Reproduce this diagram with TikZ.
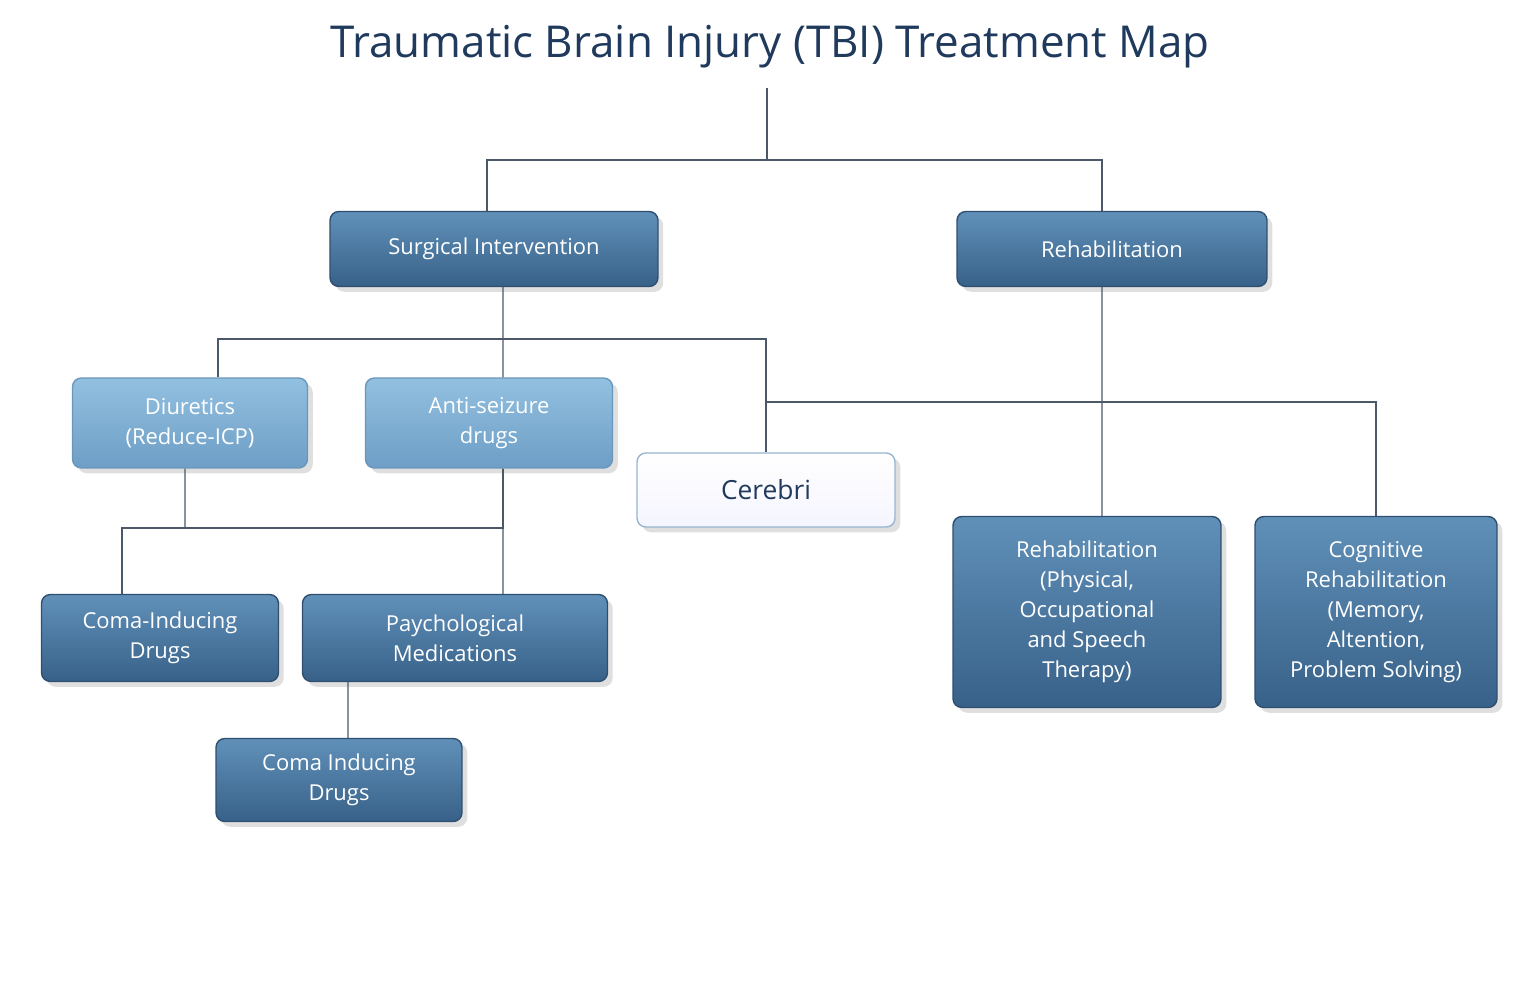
\documentclass[tikz,border=0pt]{standalone}
\usepackage{fontspec}
\setmainfont{Open Sans}
\usetikzlibrary{positioning, shadows, calc}
\definecolor{navy}{HTML}{1F3A5C}
\definecolor{boxtop}{HTML}{6090B8}
\definecolor{boxbot}{HTML}{386189}
\definecolor{boxedge}{HTML}{2E4F70}
\definecolor{lighttop}{HTML}{92C0E0}
\definecolor{lightbot}{HTML}{6E9EC6}
\definecolor{lightedge}{HTML}{6A96BA}
\definecolor{wire}{HTML}{4A5868}
\tikzset{
  treat/.style = {rectangle, rounded corners=5pt, draw=boxedge, line width=0.8pt, top color=boxtop, bottom color=boxbot, text=white, align=center, font=\fontsize{12.5}{17}\selectfont, drop shadow={opacity=0.25, shadow xshift=3pt, shadow yshift=-3pt}},
  drug/.style = {treat, draw=lightedge, top color=lighttop, bottom color=lightbot},
  plain/.style = {treat, draw=lightedge!70, top color=white, bottom color=HTML-EEF3F8, text=navy, font=\fontsize{15}{18}\selectfont},
  wire/.style = {draw=wire, line width=0.6pt}
}
\colorlet{HTML-EEF3F8}{blue!4!white}
\begin{document}
\begin{tikzpicture}[x=0.02cm, y=-0.02cm]
\useasboundingbox (0,0) rectangle (1536,984);

% title
\node[text=navy, font=\fontsize{25}{30}\selectfont] (title) at (770,47) {Traumatic Brain Injury (TBI) Treatment Map};

% main branches
\node[treat, minimum width=6.56cm, minimum height=1.5cm] (surg) at (494,249) {Surgical Intervention};
\node[treat, minimum width=6.2cm, minimum height=1.5cm] (rehab) at (1112,249) {Rehabilitation};

% drugs
\node[drug, minimum width=4.7cm, minimum height=1.8cm] (diur) at (190,423) {Diuretics\\(Reduce-ICP)};
\node[drug, minimum width=4.94cm, minimum height=1.8cm] (anti) at (489,423) {Anti-seizure\\drugs};
\node[plain, minimum width=5.16cm, minimum height=1.48cm] (cereb) at (766,490) {Cerebri};

% rehabilitation
\node[treat, minimum width=5.36cm, minimum height=3.82cm] (rphys) at (1087,612) {Rehabilitation\\(Physical,\\Occupational\\and Speech\\Therapy)};
\node[treat, minimum width=4.84cm, minimum height=3.82cm] (cogn) at (1376,612) {Cognitive\\Rehabilitation\\(Memory,\\Altention,\\Problem Solving)};

% lower drugs
\node[treat, minimum width=4.74cm, minimum height=1.74cm] (coma1) at (160,638) {Coma-Inducing\\Drugs};
\node[treat, minimum width=6.1cm, minimum height=1.74cm] (psych) at (455,638) {Paychological\\Medications};
\node[treat, minimum width=4.92cm, minimum height=1.66cm] (coma2) at (339,780) {Coma Inducing\\Drugs};

% connectors
\coordinate (top) at (767,88);
\coordinate (j1) at (767,160);
\coordinate (j2) at (503,339);
\coordinate (j3) at (1102,402);
\coordinate (j4) at (185,528);
\draw[wire] (top) -- (j1);
\draw[wire] (j1) -| ([xshift=-0.14cm]surg.north);
\draw[wire] (j1) -| ([xshift=-0.2cm]rehab.north);
\draw[wire] ([xshift=0.18cm]surg.south) -- (j2);
\draw[wire] (j2) -| ([xshift=0.56cm]diur.north);
\draw[wire] (j2) -- ([xshift=0.28cm]anti.north);
\draw[wire] (j2) -| (cereb.north);
\draw[wire] ([xshift=-0.2cm]rehab.south) -- ([xshift=0.3cm]rphys.north);
\draw[wire] (j3) -| (cogn.north);
\draw[wire] (j3) -- (j3 -| cereb.north);
\draw[wire] ([xshift=-0.1cm]diur.south) -- (j4);
\draw[wire] (j4) -| ([xshift=-0.76cm]coma1.north);
\draw[wire] (j4) -| ([xshift=0.28cm]anti.south);
\draw[wire] ([xshift=0.28cm]anti.south) -- ([xshift=0.96cm]psych.north);
\draw[wire] ([xshift=-2.14cm]psych.south) -- ([xshift=0.18cm]coma2.north);
\end{tikzpicture}
\end{document}
